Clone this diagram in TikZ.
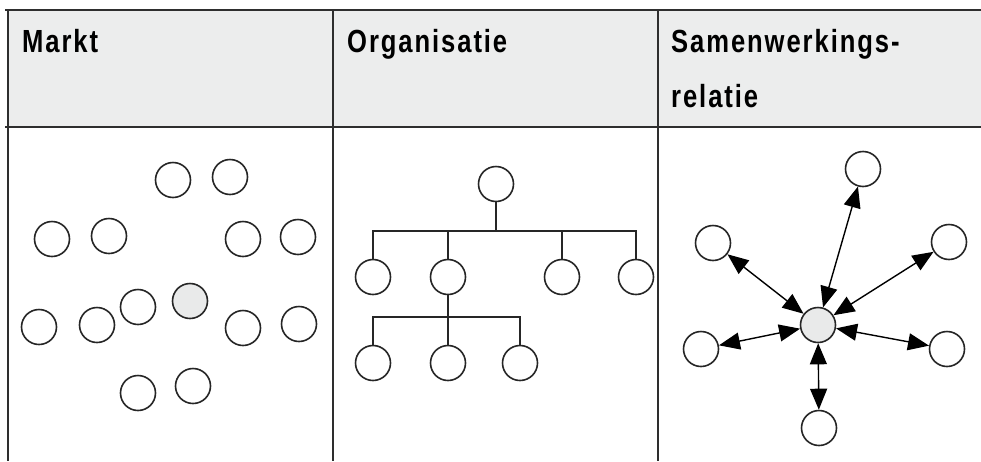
\documentclass[tikz,border=0pt]{standalone}
\usepackage{fontspec}
\newfontfamily\hdfont{Liberation Sans}[FakeStretch=0.8,LetterSpace=6]
\usetikzlibrary{arrows.meta}
\definecolor{rulecol}{HTML}{2E2E2E}
\definecolor{headfill}{HTML}{ECEDED}
\definecolor{dotfill}{HTML}{E9EAEA}

\begin{document}
\begin{tikzpicture}[x=1pt,y=-1pt,
  rulel/.style={draw=rulecol,line width=2pt},
  unit/.style={circle,draw=black!85,line width=1.6pt,minimum size=35pt,inner sep=0pt,fill=white},
  core/.style={unit,fill=dotfill},
  link/.style={line width=1.6pt,draw=black!85},
  rel/.style={line width=1.4pt,draw=black,{Triangle[length=21pt,width=17pt]}-{Triangle[length=21pt,width=17pt]}},
  head/.style={anchor=base west,inner sep=0pt,font=\hdfont\bfseries\fontsize{32pt}{55pt}\selectfont,align=left}]

\useasboundingbox (0,0) rectangle (981,461);

% header band and table rules
\fill[headfill] (8,10) rectangle (981,127);
\draw[rulel] (5,10) -- (981,10);
\draw[rulel] (5,127) -- (981,127);
\draw[rulel] (8,10) -- (8,461);
\draw[rulel] (333,10) -- (333,461);
\draw[rulel] (658,10) -- (658,461);

% column headings (a two-line node is anchored on its last baseline)
\node[head] (hm) at (22,52) {Markt};
\node[head] (ho) at (347,52) {Organisatie};
\node[head] (hs) at (671,107) {Samenwerkings-\\relatie};

% market: loose units
\node[unit] (m1) at (173,180) {};
\node[unit] (m2) at (230,177) {};
\node[unit] (m3) at (52,239) {};
\node[unit] (m4) at (109,236) {};
\node[unit] (m5) at (243,239) {};
\node[unit] (m6) at (298,237) {};
\node[unit] (m7) at (39,327) {};
\node[unit] (m8) at (97,325) {};
\node[unit] (m9) at (138,307) {};
\node[core] (m10) at (190,301) {};
\node[unit] (m11) at (243,328) {};
\node[unit] (m12) at (299,324) {};
\node[unit] (m13) at (138,393) {};
\node[unit] (m14) at (193,386) {};

% organisation: hierarchy
\node[unit] (o0) at (496,184) {};
\node[unit] (o1) at (373,277) {};
\node[unit] (o2) at (448,277) {};
\node[unit] (o3) at (562,277) {};
\node[unit] (o4) at (636,277) {};
\node[unit] (o5) at (373,363) {};
\node[unit] (o6) at (448,363) {};
\node[unit] (o7) at (520,363) {};
\coordinate (b1) at (496,231);
\coordinate (b2) at (448,317);
\draw[link] (o0) -- (b1);
\draw[link] (b1) -| (o1);
\draw[link] (b1) -| (o2);
\draw[link] (b1) -| (o3);
\draw[link] (b1) -| (o4);
\draw[link] (o2) -- (b2);
\draw[link] (b2) -| (o5);
\draw[link] (b2) -- (o6);
\draw[link] (b2) -| (o7);

% cooperation: star of two-way relations
\node[core] (s0) at (818,325) {};
\node[unit] (s1) at (863,169) {};
\node[unit] (s2) at (713,243) {};
\node[unit] (s3) at (949,242) {};
\node[unit] (s4) at (701,349) {};
\node[unit] (s5) at (947,349) {};
\node[unit] (s6) at (819,428) {};
\foreach \t in {s1,s2,s3,s4,s5,s6} \draw[rel] (s0) -- (\t);
\end{tikzpicture}
\end{document}
